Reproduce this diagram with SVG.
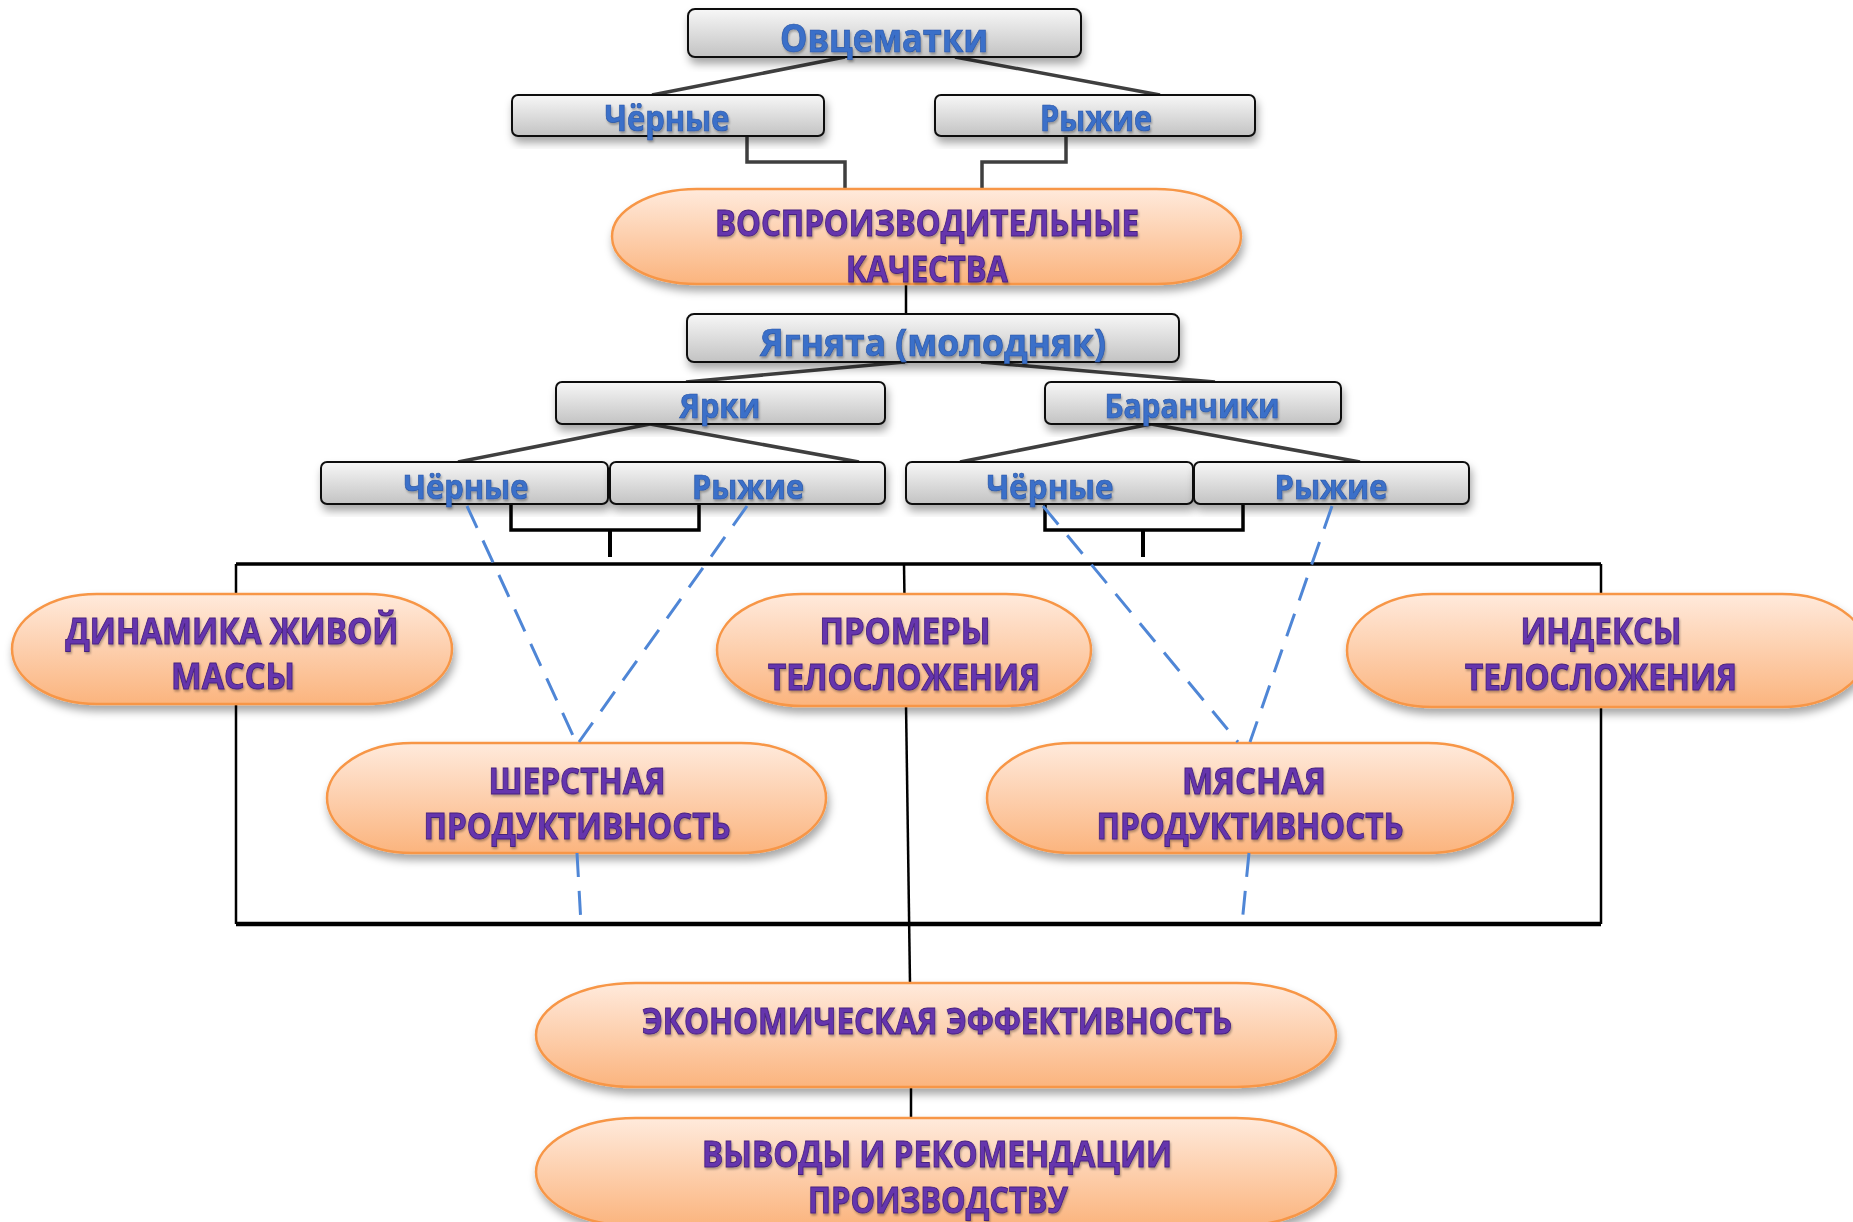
<svg xmlns="http://www.w3.org/2000/svg" width="1853" height="1222" viewBox="0 0 1853 1222">
<defs>
<linearGradient id="gGray" x1="0" y1="0" x2="0" y2="1">
<stop offset="0" stop-color="#f7f7f7"/>
<stop offset="1" stop-color="#c3c3c3"/>
</linearGradient>
<linearGradient id="gOrange" x1="0" y1="0" x2="0" y2="1">
<stop offset="0" stop-color="#ffeadc"/>
<stop offset="1" stop-color="#fbb47e"/>
</linearGradient>
<filter id="shadow" x="-10%" y="-20%" width="120%" height="150%">
<feDropShadow dx="2" dy="6" stdDeviation="4" flood-color="#000" flood-opacity="0.35"/>
</filter>
<filter id="tshadow" x="-5%" y="-20%" width="110%" height="150%">
<feDropShadow dx="1" dy="2" stdDeviation="1" flood-color="#000" flood-opacity="0.3"/>
</filter>
</defs>
<style>
.box{fill:url(#gGray);stroke:#111;stroke-width:2;filter:url(#shadow)}
.oval{fill:url(#gOrange);stroke:#f79646;stroke-width:2.5;filter:url(#shadow)}
.bt{font-family:"Open Sans","Liberation Sans",sans-serif;font-weight:700;fill:#3b6fc9;stroke:#2a57a6;stroke-width:0.7;text-anchor:middle;filter:url(#tshadow)}
.pt{font-family:"Open Sans","Liberation Sans",sans-serif;font-weight:700;font-size:36px;fill:#6534ad;stroke:#45207f;stroke-width:0.9;text-anchor:middle;filter:url(#tshadow)}
.gl{stroke:#3f3f3f;stroke-width:3.5;fill:none}
.bl{stroke:#000;fill:none}
.dl{stroke:#4f86d6;stroke-width:3;stroke-dasharray:24 14;fill:none}
</style>

<g id="connectors">
<line class="gl" x1="845" y1="57" x2="652" y2="95"/>
<line class="gl" x1="955" y1="57" x2="1160" y2="95"/>
<polyline class="gl" points="747,136 747,162 845,162 845,189"/>
<polyline class="gl" points="1066,136 1066,162 982,162 982,189"/>
<line class="bl" stroke-width="2.5" x1="906" y1="284" x2="906" y2="314"/>
<line class="gl" x1="905" y1="362" x2="686" y2="382"/>
<line class="gl" x1="981" y1="362" x2="1215" y2="382"/>
<line class="gl" x1="650" y1="424" x2="458" y2="462"/>
<line class="gl" x1="650" y1="424" x2="859" y2="462"/>
<line class="gl" x1="1151" y1="424" x2="960" y2="462"/>
<line class="gl" x1="1151" y1="424" x2="1360" y2="462"/>
<polyline class="bl" stroke-width="3.5" points="511,504 511,530 699,530 699,504"/>
<line class="bl" stroke-width="4" x1="610" y1="530" x2="610" y2="557"/>
<polyline class="bl" stroke-width="3.5" points="1045,504 1045,530 1243,530 1243,504"/>
<line class="bl" stroke-width="4" x1="1143" y1="530" x2="1143" y2="557"/>
<line class="bl" stroke-width="3.5" x1="236" y1="564" x2="1601" y2="564"/>
<line class="bl" stroke-width="2.5" x1="236" y1="564" x2="236" y2="924"/>
<line class="bl" stroke-width="2.5" x1="1601" y1="564" x2="1601" y2="924"/>
<line class="bl" stroke-width="2.5" x1="904" y1="564" x2="910" y2="983"/>
<line class="bl" stroke-width="4.5" x1="236" y1="924" x2="1601" y2="924"/>
<line class="bl" stroke-width="2.5" x1="911" y1="1087" x2="911" y2="1118"/>
</g>

<g id="n-ovcematki"><rect class="box" x="688" y="9" width="393" height="48" rx="7"/><text class="bt" x="884" y="52" font-size="39" textLength="208" lengthAdjust="spacingAndGlyphs">Овцематки</text></g>
<g id="n-chernye-top"><rect class="box" x="512" y="95" width="312" height="41" rx="6"/><text class="bt" x="667" y="131" font-size="35" textLength="125" lengthAdjust="spacingAndGlyphs">Чёрные</text></g>
<g id="n-ryzhie-top"><rect class="box" x="935" y="95" width="320" height="41" rx="6"/><text class="bt" x="1096" y="131" font-size="35" textLength="112" lengthAdjust="spacingAndGlyphs">Рыжие</text></g>

<g id="n-vosproizv"><rect class="oval" x="612" y="189" width="629" height="95" rx="85" ry="47.5"/>
<text class="pt" x="927" y="236" font-size="34" textLength="424" lengthAdjust="spacingAndGlyphs">ВОСПРОИЗВОДИТЕЛЬНЫЕ</text>
<text class="pt" x="927" y="282" font-size="34" textLength="162" lengthAdjust="spacingAndGlyphs">КАЧЕСТВА</text></g>

<g id="n-yagnyata"><rect class="box" x="687" y="314" width="492" height="48" rx="7"/><text class="bt" x="933" y="356" font-size="38" textLength="346" lengthAdjust="spacingAndGlyphs">Ягнята (молодняк)</text></g>
<g id="n-yarki"><rect class="box" x="556" y="382" width="329" height="42" rx="6"/><text class="bt" x="720" y="418" font-size="34" textLength="81" lengthAdjust="spacingAndGlyphs">Ярки</text></g>
<g id="n-baranchiki"><rect class="box" x="1045" y="382" width="296" height="42" rx="6"/><text class="bt" x="1192" y="418" font-size="34" textLength="175" lengthAdjust="spacingAndGlyphs">Баранчики</text></g>

<g id="n-chernye-l"><rect class="box" x="321" y="462" width="287" height="42" rx="6"/><text class="bt" x="466" y="499" font-size="34" textLength="125" lengthAdjust="spacingAndGlyphs">Чёрные</text></g>
<g id="n-ryzhie-l"><rect class="box" x="610" y="462" width="275" height="42" rx="6"/><text class="bt" x="748" y="499" font-size="34" textLength="112" lengthAdjust="spacingAndGlyphs">Рыжие</text></g>
<g id="n-chernye-r"><rect class="box" x="906" y="462" width="287" height="42" rx="6"/><text class="bt" x="1050" y="499" font-size="34" textLength="127" lengthAdjust="spacingAndGlyphs">Чёрные</text></g>
<g id="n-ryzhie-r"><rect class="box" x="1194" y="462" width="275" height="42" rx="6"/><text class="bt" x="1331" y="499" font-size="34" textLength="113" lengthAdjust="spacingAndGlyphs">Рыжие</text></g>

<g id="n-dinamika"><rect class="oval" x="12" y="594" width="440" height="110" rx="85" ry="55"/>
<text class="pt" x="232" y="644" textLength="333" lengthAdjust="spacingAndGlyphs">ДИНАМИКА ЖИВОЙ</text>
<text class="pt" x="233" y="689" textLength="124" lengthAdjust="spacingAndGlyphs">МАССЫ</text></g>
<g id="n-promery"><rect class="oval" x="717" y="594" width="374" height="112" rx="85" ry="56"/>
<text class="pt" x="905" y="644" textLength="171" lengthAdjust="spacingAndGlyphs">ПРОМЕРЫ</text>
<text class="pt" x="904" y="690" textLength="272" lengthAdjust="spacingAndGlyphs">ТЕЛОСЛОЖЕНИЯ</text></g>
<g id="n-indeksy"><rect class="oval" x="1347" y="594" width="520" height="113" rx="85" ry="56.5"/>
<text class="pt" x="1601" y="644" textLength="161" lengthAdjust="spacingAndGlyphs">ИНДЕКСЫ</text>
<text class="pt" x="1601" y="690" textLength="272" lengthAdjust="spacingAndGlyphs">ТЕЛОСЛОЖЕНИЯ</text></g>

<g id="n-sherst"><rect class="oval" x="327" y="743" width="499" height="110" rx="85" ry="55"/>
<text class="pt" x="577" y="794" textLength="177" lengthAdjust="spacingAndGlyphs">ШЕРСТНАЯ</text>
<text class="pt" x="577" y="839" textLength="307" lengthAdjust="spacingAndGlyphs">ПРОДУКТИВНОСТЬ</text></g>
<g id="n-myasnaya"><rect class="oval" x="987" y="743" width="526" height="110" rx="85" ry="55"/>
<text class="pt" x="1254" y="794" textLength="144" lengthAdjust="spacingAndGlyphs">МЯСНАЯ</text>
<text class="pt" x="1250" y="839" textLength="307" lengthAdjust="spacingAndGlyphs">ПРОДУКТИВНОСТЬ</text></g>

<g id="n-ekonom"><rect class="oval" x="536" y="983" width="800" height="104" rx="100" ry="52"/>
<text class="pt" x="937" y="1034" textLength="590" lengthAdjust="spacingAndGlyphs">ЭКОНОМИЧЕСКАЯ ЭФФЕКТИВНОСТЬ</text></g>
<g id="n-vyvody"><rect class="oval" x="536" y="1118" width="800" height="108" rx="100" ry="54"/>
<text class="pt" x="937" y="1167" font-size="34" textLength="470" lengthAdjust="spacingAndGlyphs">ВЫВОДЫ И РЕКОМЕНДАЦИИ</text>
<text class="pt" x="938" y="1213" font-size="34" textLength="260" lengthAdjust="spacingAndGlyphs">ПРОИЗВОДСТВУ</text></g>

<g id="dashed-connectors">
<line class="dl" x1="467" y1="506" x2="576" y2="742"/>
<line class="dl" x1="747" y1="506" x2="579" y2="742"/>
<line class="dl" x1="1043" y1="506" x2="1238" y2="742"/>
<line class="dl" x1="1332" y1="506" x2="1250" y2="742"/>
<line class="dl" x1="577" y1="853" x2="581" y2="924"/>
<line class="dl" x1="1249" y1="853" x2="1242" y2="924"/>
</g>
</svg>
